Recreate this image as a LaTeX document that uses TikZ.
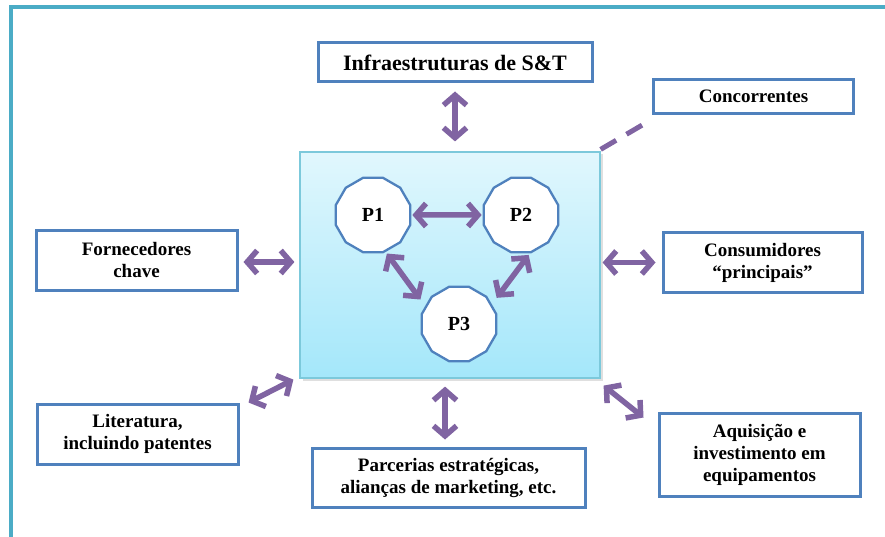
\documentclass[tikz,border=0pt]{standalone}
\usepackage{fontspec}
\setmainfont{Liberation Serif}
\usetikzlibrary{arrows.meta,shapes.geometric,calc,shadows}
\definecolor{frameblue}{HTML}{4BACC6}
\definecolor{boxblue}{HTML}{4F81BD}
\definecolor{linkpurple}{HTML}{8064A2}
\definecolor{coretop}{HTML}{E1F7FD}
\definecolor{corebot}{HTML}{A4E7FA}
\definecolor{coreedge}{HTML}{7CC9DB}

\begin{document}
\begin{tikzpicture}[x=1pt,y=-1pt,
  infobox/.style={draw=boxblue, line width=3pt, fill=white, inner sep=0pt,
    align=center, font=\fontsize{19}{22}\selectfont\bfseries,
    drop shadow={shadow xshift=1.5pt, shadow yshift=-1.5pt, opacity=0.2}},
  core/.style={draw=coreedge, line width=1.2pt, top color=coretop, bottom color=corebot,
    minimum width=300pt, minimum height=226pt, inner sep=0pt,
    drop shadow={shadow xshift=2.5pt, shadow yshift=-2.5pt, opacity=0.25}},
  proc/.style={regular polygon, regular polygon sides=12, minimum size=77pt,
    inner sep=0pt, draw=boxblue, line width=2.3pt, fill=white,
    font=\fontsize{20}{24}\selectfont\bfseries},
  link/.style={draw=linkpurple, line width=5.5pt,
    {Straight Barb[length=10pt,width=23pt]}-{Straight Barb[length=10pt,width=23pt]}},
  rival/.style={draw=linkpurple, line width=5pt, dash pattern=on 18pt off 12pt},
]
\useasboundingbox (0,0) rectangle (885,537);

% outer frame (only top and left edges fall inside the page)
\draw[frameblue, line width=3.5pt] (11,537) -- (11,7) -- (885,7);

% central organisation block with the three partners
\node[core] (ctr) at (450,265) {};
\node[proc] (P1) at (373,215) {P1};
\node[proc] (P2) at (521,215) {P2};
\node[proc] (P3) at (459,324) {P3};

% surrounding actors
\node[infobox, minimum width=274pt, minimum height=39pt,
  font=\fontsize{22}{26}\selectfont\bfseries] (infra) at (455,62.5) {Infraestruturas de S\&T};
\node[infobox, minimum width=200pt, minimum height=34pt] (conc) at (753.5,96.5) {Concorrentes};
\node[infobox, minimum width=201pt, minimum height=59pt] (forn) at (136.5,260.5) {Fornecedores\\chave};
\node[infobox, minimum width=199pt, minimum height=59pt] (cons) at (762.5,262.5) {Consumidores\\“principais”};
\node[infobox, minimum width=201pt, minimum height=60pt] (lit) at (137.5,434) {Literatura,\\incluindo patentes};
\node[infobox, minimum width=273pt, minimum height=59pt] (parc) at (448.5,477.5) {Parcerias estratégicas,\\alianças de marketing, etc.};
\node[infobox, minimum width=201pt, minimum height=83pt] (aq) at (759.5,454.5) {Aquisição e\\investimento em\\equipamentos};

% links between the partners
\draw[link, shorten <=1pt, shorten >=1pt] (P1) -- (P2);
\draw[link, shorten <=2pt, shorten >=8pt] (P1.289) -- (P3.152);
\draw[link, shorten <=2pt, shorten >=8pt] (P2.283) -- (P3.31);

% links to the surrounding actors
\draw[link, shorten <=8pt, shorten >=10pt] (infra.south) -- (infra.south |- ctr.north);
\draw[link, shorten <=5pt, shorten >=5pt] ($(forn.east)+(0,1.5)$) -- ($(forn.east -| ctr.west)+(0,1.5)$);
\draw[link, shorten <=2pt, shorten >=6pt] (cons.west -| ctr.east) -- (cons.west);
\draw[link, shorten <=7pt, shorten >=8pt] ($(parc.north)+(-3.5,0)$) -- ($(parc.north |- ctr.south)+(-3.5,0)$);
\draw[link] ($(ctr.south west)+(-6,1)$) -- ($(lit.north east)+(9,0)$);
\draw[link] ($(ctr.south east)+(3,7)$) -- ($(aq.north west)+(-14,6)$);
\draw[rival] ($(ctr.north east)+(0,-2)$) -- ($(conc.south west)+(-8,9)$);
\end{tikzpicture}
\end{document}
